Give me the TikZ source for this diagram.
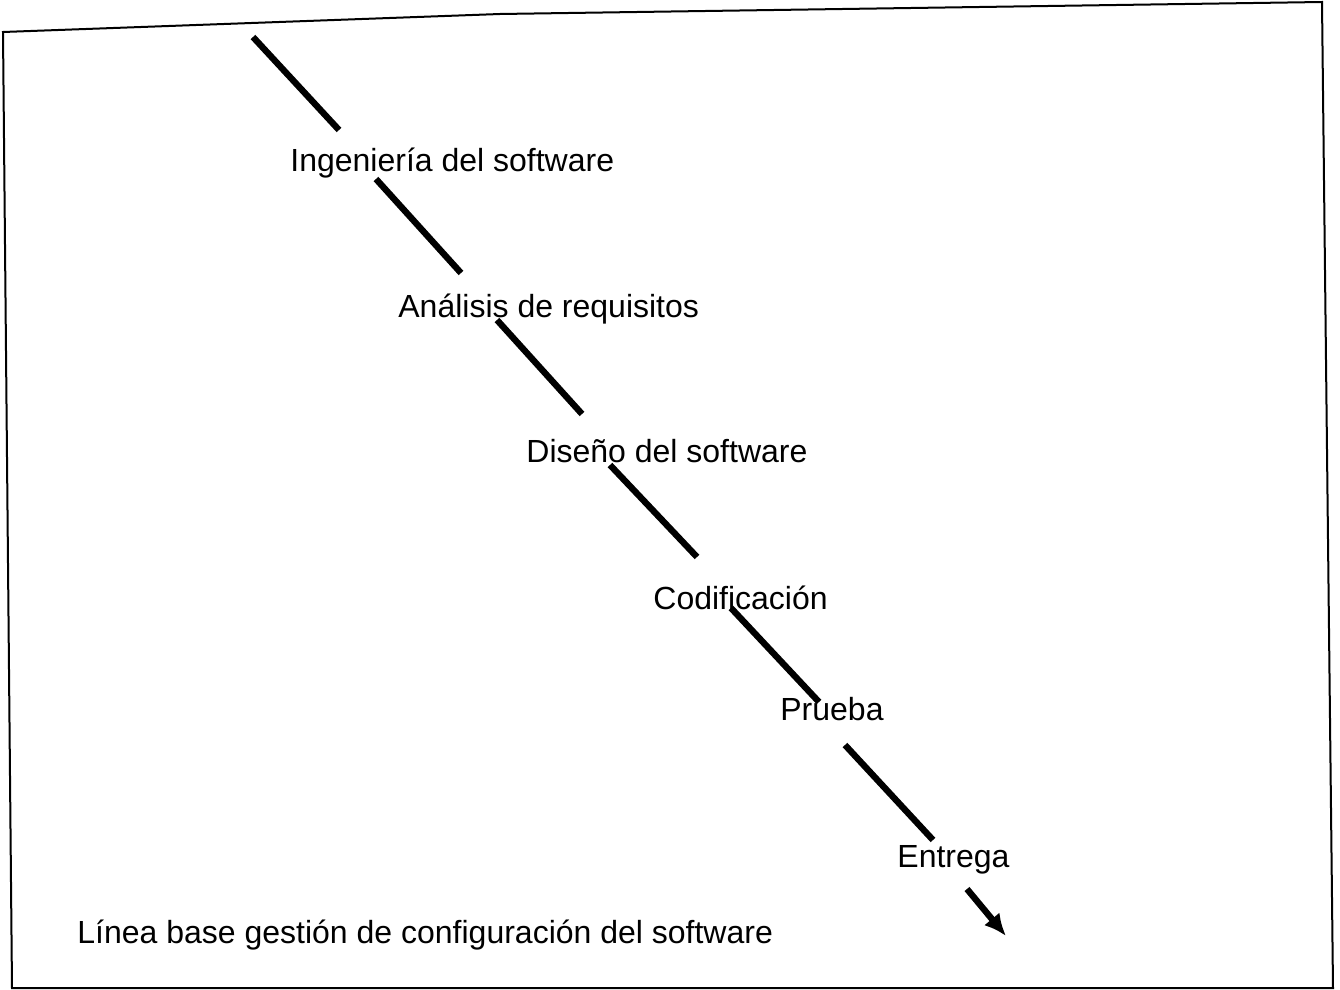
\documentclass[tikz,border=0pt]{standalone}
\usepackage{fontspec}
\setmainfont{Liberation Sans}
\usetikzlibrary{arrows.meta}
\begin{document}
\begin{tikzpicture}[x=0.5pt,y=-0.5pt,
    every node/.style={anchor=base west,inner sep=0pt,font=\fontsize{16}{19}\selectfont}]
      \useasboundingbox (0,0) rectangle (1340,990);
      \draw[line width=1pt] (3,32) -- (500,14) -- (1322,2) -- (1333,988) -- (12,988) -- cycle;
      \draw
        (290,172) node (ing){Ingeniería del software}
        (398,317) node (ana){Análisis de requisitos}
        (526,462) node (dis){Diseño del software}
        (653,609) node (cod){Codificación}
        (780,720) node (pru){Prueba}
        (897,867) node (ent){Entrega}
        (77,943) node (lin){Línea base gestión de configuración del software};
      \path
        (253,37) coordinate (a1) (339,130) coordinate (b1)
        (376,179) coordinate (a2) (461,273) coordinate (b2)
        (497,320) coordinate (a3) (582,414) coordinate (b3)
        (610,465) coordinate (a4) (697,557) coordinate (b4)
        (731,608) coordinate (a5) (819,702) coordinate (b5)
        (845,745) coordinate (a6) (933,840) coordinate (b6)
        (967,889) coordinate (a7) (1006,936) coordinate (b7);
      \begin{scope}[line width=3.2pt]
        \draw (a1) to (b1);
        \draw (a2) to (b2);
        \draw (a3) to (b3);
        \draw (a4) to (b4);
        \draw (a5) to (b5);
        \draw (a6) to (b6);
        \draw[-{Latex[length=11pt,width=10pt]}] (a7) to (b7);
      \end{scope}
    \end{tikzpicture}
\end{document}
